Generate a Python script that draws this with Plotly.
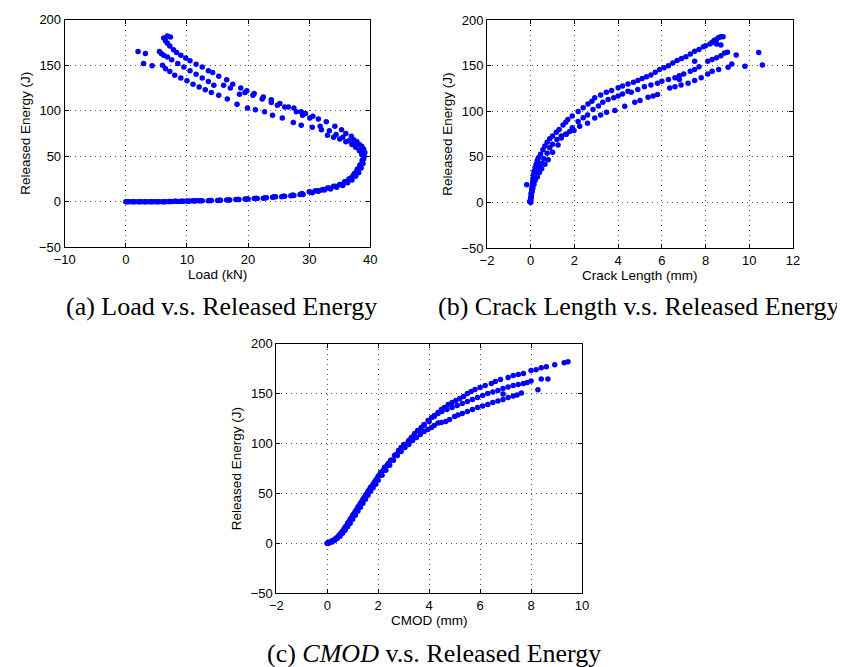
import plotly.graph_objects as go

# ---------------- (a) Load vs Released Energy ----------------
a1_load = [0, 1, 2, 3, 4, 5, 6, 7, 8, 9, 10, 11, 12, 13.5, 15, 16.5, 18, 19.5, 21, 22.5,
           24, 25.5, 27, 28.5, 30, 31, 32, 33, 34, 35, 35.8, 36.5, 37.2, 37.8, 38.3, 38.7, 39, 39.1, 38.9, 38.6,
           38.2, 37.8, 37.3, 36.9, 36, 35.3, 34.2, 32.8, 31.5, 30.6, 29.4, 28.7, 27.5, 26.6, 25.2, 23.8, 22.5, 21, 19.8, 18.8,
           17.5, 16.5, 15.2, 14.2, 13.5, 12.5, 11.5, 10.5, 9.8, 9, 8.3, 7.8, 7.2, 6.8, 6.5, 6.2, 6.8, 7.3]
a1_energy = [0, 0, 0, 0, 0, 0, 0, 0.3, 0.5, 0.5, 0.8, 1, 1, 1.2, 1.5, 2, 2.5, 3, 3.5, 4,
             5, 5.5, 6.5, 8, 11, 12, 13, 15, 17, 19, 22, 25, 29, 34, 40, 45, 50, 54, 58, 61,
             63, 66, 68, 72, 75, 79, 83, 88, 91, 94, 97, 99, 103, 104, 108, 112, 115, 119, 122, 125,
             129, 134, 138, 142, 144, 148, 151, 155, 158, 161, 164, 167, 171, 174, 177, 180, 182, 181]

a2_load = [0.5, 1.5, 2.5, 3.5, 4.5, 5.5, 6.5, 7.5, 8.5, 9.5, 10.5, 11.5, 12.5, 14, 15.5, 17, 18.5, 20, 21.5, 23,
           24.5, 26, 27.5, 29, 30.5, 31.5, 32.5, 33.5, 34.5, 35.5, 36.3, 37, 37.6, 38.1, 38.5, 38.8, 38.9, 38.7, 38.3, 37.5,
           36.5, 35.5, 34.4, 33.3, 31.8, 30.1, 28.9, 27.9, 26, 24.8, 23.8, 22.3, 20.8, 19.5, 18.6, 17.1, 16, 14.4, 13.5, 12.5,
           11.5, 10.5, 9.5, 8.5, 7.5, 6.8, 6.2, 5.8, 5.5, 3.2, 2.0]
a2_energy = [0, 0, 0, 0, 0, 0, 0, 0.2, 0.4, 0.6, 0.8, 1, 1, 1.3, 1.8, 2, 2.5, 3, 3.5, 4.5,
             5.5, 6, 7, 8, 10, 11.5, 13, 14, 16, 18, 21, 24, 28, 32, 37, 42, 47, 53, 57, 62,
             67, 71, 74, 78, 83, 92, 95, 99, 104, 106, 109, 113, 117, 120, 118, 125, 128, 128, 132, 136,
             140, 144, 148, 152, 156, 159, 161, 163, 165, 163, 165]

a3_load = [0.2, 1.2, 2.2, 3.2, 4.2, 5.2, 6.2, 7.2, 8.2, 9.2, 10.2, 11.2, 12.2, 13.8, 15.3, 16.8, 18.3, 19.8, 21.3, 22.8,
           24.3, 25.8, 27.3, 28.8, 30.3, 31.3, 32.3, 33.3, 34.3, 35.2, 36, 36.8, 37.4, 37.9, 38.4, 38.7, 38.6, 38.2, 37.6, 37,
           36, 35, 34, 33, 32, 30.5, 28.7, 27.4, 25.6, 24, 22.7, 21.2, 19.9, 18.2, 16.6, 15.2, 14, 13, 12, 11,
           10, 9, 8, 7.2, 6.5, 6, 4.3, 2.9]
a3_energy = [0, 0, 0, 0, 0, 0, 0, 0.3, 0.5, 0.5, 0.7, 0.9, 1.2, 1.5, 1.8, 2, 2.5, 3, 4, 4.5,
             5.5, 6, 7.5, 9, 10.5, 12, 13.5, 15, 17, 19, 22, 26, 31, 36, 41, 46, 52, 56, 60, 63,
             66, 69, 71, 73, 79, 82, 84, 87, 92, 95, 99, 101, 103, 107, 113, 117, 120, 123, 126, 129,
             133, 136, 139, 143, 146, 150, 149.5, 152]

# ---------------- (b) Crack Length vs Released Energy ----------------
b1_crack = [0, 0, 0.02, 0.03, 0.05, 0.05, 0.08, 0.1, 0.1, 0.12, 0.15, 0.2, 0.25, 0.3, 0.35, 0.45, 0.56, 0.65, 0.75, 0.87,
            1.0, 1.17, 1.3, 1.48, 1.6, 1.7, 1.9, 2.17, 2.4, 2.62, 2.8, 2.93, 3.2, 3.46, 3.7, 4.0, 4.2, 4.45, 4.7, 4.9,
            5.1, 5.3, 5.5, 5.7, 5.9, 6.1, 6.3, 6.5, 6.7, 6.9, 7.1, 7.3, 7.5, 7.7, 7.9, 8.0, 8.2, 8.3, 8.4, 8.5,
            8.6, 8.7, 8.8, 8.5, 8.7]
b1_energy = [0, 3, 6, 9, 12, 15, 18, 22, 26, 30, 34, 38, 42, 46, 49, 53, 58, 62, 66, 70,
             73, 77, 80, 85, 88, 91, 95, 100, 104, 108, 111, 115, 118, 121, 123, 126, 128, 130, 132, 134,
             136, 138, 140, 143, 146, 148, 150, 153, 156, 158, 160, 163, 166, 168, 171, 172, 174, 176, 178, 179,
             181, 182, 182, 174, 173]

b2_crack = [-0.05, 0, 0.02, 0.05, 0.08, 0.1, 0.15, 0.2, 0.3, 0.4, 0.5, 0.6, 0.75, 0.87, 1.0, 1.2, 1.4, 1.63, 1.9, 2.17,
            2.4, 2.6, 2.85, 3.1, 3.3, 3.54, 3.8, 4.0, 4.2, 4.45, 4.6, 4.9, 5.2, 5.5, 5.8, 6.0, 6.3, 6.6, 6.8, 7.0,
            7.3, 7.5, 7.7, 8.1, 8.3, 8.5, 8.7, 8.87, 9.0, 9.4, 10.43, 7.5]
b2_energy = [1, 5, 10, 14, 18, 21, 25, 29, 34, 39, 43, 48, 54, 60, 64, 69, 73, 75, 82, 89,
             93, 96, 102, 106, 110, 113, 115, 117, 119, 122, 121, 124, 127, 129, 131, 133, 135, 137, 139, 141,
             144, 146, 149, 155, 157, 159, 161, 164, 165, 162, 164.7, 155]

b3_crack = [-0.18, 0, 0.03, 0.06, 0.1, 0.15, 0.2, 0.3, 0.4, 0.5, 0.65, 0.8, 1.0, 1.25, 1.4, 1.6, 1.78, 1.98, 2.24, 2.6,
            2.93, 3.2, 3.47, 3.85, 4.3, 4.76, 5.0, 5.37, 5.6, 5.8, 6.36, 6.6, 6.88, 7.2, 7.5, 7.8, 8.1, 8.3, 8.6, 9.03,
            9.2, 9.8, 10.6, 6.8]
b3_energy = [19.5, 2, 7, 12, 16, 20, 24, 28, 33, 37, 42, 47, 55, 63, 70.8, 75, 78, 79, 83.6, 87,
             92.7, 96, 99, 101, 105.6, 110, 112, 115.6, 117, 118.6, 125.7, 127, 129, 131, 134, 137, 141, 144, 146, 148.4,
             152, 149.5, 151, 135]

# ---------------- (c) CMOD vs Released Energy ----------------
c1_cmod = [0, 0.02, 0.05, 0.08, 0.1, 0.15, 0.2, 0.3, 0.4, 0.5, 0.6, 0.7, 0.8, 0.9, 1.0, 1.1, 1.2, 1.3, 1.4, 1.5,
           1.6, 1.7, 1.8, 1.9, 2.0, 2.1, 2.25, 2.4, 2.5, 2.64, 2.8, 2.9, 3.0, 3.17, 3.3, 3.43, 3.55, 3.69, 3.8, 3.96,
           4.1, 4.21, 4.35, 4.48, 4.6, 4.75, 4.9, 5.05, 5.2, 5.35, 5.5, 5.65, 5.8, 6.0, 6.2, 6.44, 6.6, 6.8, 7.1, 7.3,
           7.5, 7.7, 8.0, 8.2, 8.4, 8.6, 8.93, 9.3, 9.45]
c1_energy = [0, 0, 0.3, 0.6, 1, 1.5, 2.5, 4, 6, 9, 12, 16, 20, 24, 28, 32, 36, 40, 44, 48,
             52, 56, 59, 63, 67, 71, 76, 80, 83, 88, 93, 96, 99, 101, 106, 110, 113, 116, 119, 123,
             126, 128, 131, 134, 136, 139, 141, 143, 145, 147, 150, 152, 154, 156, 158, 160, 162, 164, 166, 168,
             169, 170, 173, 174, 176, 177, 179, 181, 182]

c2_cmod = [0, 0.03, 0.06, 0.1, 0.15, 0.25, 0.35, 0.45, 0.55, 0.65, 0.75, 0.85, 0.95, 1.05, 1.15, 1.25, 1.35, 1.45, 1.55, 1.65,
           1.75, 1.85, 1.95, 2.05, 2.2, 2.35, 2.5, 2.7, 2.85, 3.0, 3.2, 3.4, 3.6, 3.8, 4.0, 4.2, 4.35, 4.5, 4.7, 4.9,
           5.1, 5.3, 5.5, 5.7, 5.9, 6.1, 6.3, 6.5, 6.7, 6.9, 7.1, 7.3, 7.5, 7.7, 7.85, 8.0, 8.4, 8.66, 6.9]
c2_energy = [0, 0.2, 0.5, 1, 1.8, 3, 5, 7.5, 10.5, 14, 17.5, 21.5, 25.5, 29.5, 33.5, 37.5, 41.5, 45.5, 49.5, 53.5,
             57, 61, 64.5, 68.5, 73, 78, 83, 89, 93, 98, 103, 108, 113, 118, 122, 127, 130, 132, 134, 136,
             138, 140, 142, 144, 146, 148, 150, 151.5, 153, 155, 156.5, 158, 159, 160, 161, 162.5, 164.6, 164.6, 149.5]

c3_cmod = [0.01, 0.04, 0.08, 0.12, 0.2, 0.3, 0.4, 0.5, 0.6, 0.7, 0.8, 0.9, 1.0, 1.1, 1.2, 1.3, 1.4, 1.5, 1.6, 1.7,
           1.8, 1.9, 2.0, 2.15, 2.3, 2.45, 2.6, 2.75, 2.9, 3.05, 3.2, 3.35, 3.5, 3.65, 3.8, 3.95, 4.09, 4.2, 4.35, 4.48,
           4.65, 4.8, 5.0, 5.13, 5.3, 5.5, 5.7, 5.9, 6.1, 6.3, 6.5, 6.7, 6.9, 7.1, 7.3, 7.45, 7.62, 8.27]
c3_energy = [0, 0.1, 0.4, 0.8, 1.5, 3, 5, 7, 10, 13, 16.5, 20, 24, 28, 32, 36, 40, 44, 48, 52,
             55.5, 59, 63, 68, 73, 78, 83, 88, 92, 96, 99, 103, 106, 109, 112, 114, 116, 118, 120.5, 121,
             122, 124, 127, 128.5, 130, 132, 134, 136, 137.5, 139, 141, 142.5, 144, 146, 147.5, 148.5, 150.5, 153.9]

# tick values
a_xticks = [-10, 0, 10, 20, 30, 40]
b_xticks = [-2, 0, 2, 4, 6, 8, 10, 12]
c_xticks = [-2, 0, 2, 4, 6, 8, 10]
y_ticks = [-50, 0, 50, 100, 150, 200]

captions = ["(a) Load v.s. Released Energy",
            "(b) Crack Length v.s. Released Energy",
            "(c) <i>CMOD</i> v.s. Released Energy"]
xtitles = ["Load (kN)", "Crack Length (mm)", "CMOD (mm)"]
ytitle = "Released Energy (J)"

W, H = 845, 667
BLUE = "#0000ff"
SANS = "Liberation Sans, Arial, Helvetica, sans-serif"
SERIF = "Liberation Serif, Times New Roman, serif"

fig = go.Figure()

def add_points(x, y, xa, ya):
    fig.add_trace(go.Scatter(x=x, y=y, mode="markers", xaxis=xa, yaxis=ya,
                             marker=dict(color=BLUE, size=5.5, line=dict(width=0)),
                             showlegend=False, hoverinfo="x+y"))

for xs, ys in [(a1_load, a1_energy), (a2_load, a2_energy), (a3_load, a3_energy)]:
    add_points(xs, ys, "x", "y")
for xs, ys in [(b1_crack, b1_energy), (b2_crack, b2_energy), (b3_crack, b3_energy)]:
    add_points(xs, ys, "x2", "y2")
for xs, ys in [(c1_cmod, c1_energy), (c2_cmod, c2_energy), (c3_cmod, c3_energy)]:
    add_points(xs, ys, "x3", "y3")

# axis boxes in pixels: (left, right, top, bottom)
boxes = [(56.7, 362.3, 11.7, 239.3), (479.0, 785.0, 12.3, 240.0), (268.3, 574.0, 335.7, 585.0)]
xranges = [[-10, 40], [-2, 12], [-2, 10]]
xticks = [a_xticks, b_xticks, c_xticks]

def axis_common():
    return dict(showline=True, linecolor="black", linewidth=1, mirror="ticks",
                ticks="inside", ticklen=4, tickwidth=1, tickcolor="black",
                showgrid=True, gridcolor="#555555", gridwidth=1, griddash="1px,4px",
                zeroline=False, automargin=False,
                tickfont=dict(family=SANS, size=13, color="black"))

layout = dict(width=W, height=H, margin=dict(l=0, r=0, t=0, b=0),
              paper_bgcolor="white", plot_bgcolor="white", showlegend=False)

annotations = []
for i, (l, r, t, b) in enumerate(boxes):
    sfx = "" if i == 0 else str(i + 1)
    xa = axis_common()
    xa.update(domain=[l / W, r / W], range=xranges[i], tickmode="array", tickvals=xticks[i],
              anchor="y" + sfx)
    ya = axis_common()
    ya.update(domain=[1 - b / H, 1 - t / H], range=[-50, 200], tickmode="array", tickvals=y_ticks,
              anchor="x" + sfx)
    layout["xaxis" + sfx] = xa
    layout["yaxis" + sfx] = ya
    cx = (l + r) / 2
    cy = (t + b) / 2
    # x axis title
    annotations.append(dict(text=xtitles[i], x=cx / W, y=1 - (b + 27.5) / H, xref="paper", yref="paper",
                            showarrow=False, xanchor="center", yanchor="middle",
                            font=dict(family=SANS, size=13.5, color="black")))
    # y axis title
    annotations.append(dict(text=ytitle, x=(l - 39.5) / W, y=1 - cy / H, xref="paper", yref="paper",
                            showarrow=False, xanchor="center", yanchor="middle", textangle=-90,
                            font=dict(family=SANS, size=13.5, color="black")))

cap_pos = [(213, 298), (630, 298), (426, 645)]
for txt, (px, py) in zip(captions, cap_pos):
    annotations.append(dict(text=txt, x=px / W, y=1 - py / H, xref="paper", yref="paper",
                            showarrow=False, xanchor="center", yanchor="middle",
                            font=dict(family=SERIF, size=26, color="black")))

layout["annotations"] = annotations
fig.update_layout(**layout)
fig.write_html("out.html")
